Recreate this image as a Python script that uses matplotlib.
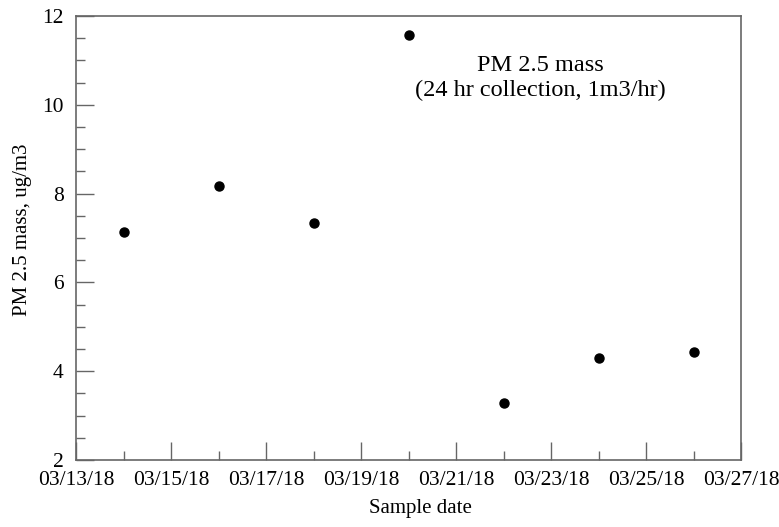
import matplotlib
matplotlib.use("Agg")
import matplotlib.pyplot as plt
import matplotlib.dates as mdates
import numpy as np
import datetime

# Sample dates and PM 2.5 mass (ug/m3)
dates = ["2018-03-14", "2018-03-16", "2018-03-18", "2018-03-20",
         "2018-03-22", "2018-03-24", "2018-03-26"]
pm25 = [7.13, 8.17, 7.33, 11.57, 3.29, 4.29, 4.44]

plt.rcParams['font.family'] = ['Liberation Serif', 'DejaVu Serif']

x = [datetime.datetime.strptime(d, "%Y-%m-%d") for d in dates]

fig = plt.figure(figsize=(7.79, 5.27), dpi=100)
ax = fig.add_axes([76 / 779, 1 - 460 / 527, 665 / 779, 444 / 527])

ax.plot(x, pm25, "o", color="black", markersize=6.5)

ax.set_xlim(datetime.datetime(2018, 3, 13), datetime.datetime(2018, 3, 27))
ax.set_ylim(2, 12)

ax.xaxis.set_major_locator(mdates.DayLocator(interval=2))
ax.xaxis.set_minor_locator(mdates.DayLocator())
ax.xaxis.set_major_formatter(mdates.DateFormatter("%m/%d/%y"))
ax.set_yticks(np.arange(2, 13, 2))
ax.set_yticks(np.arange(2, 12.01, 0.5), minor=True)

gray = "#666666"
for s in ax.spines.values():
    s.set_color(gray)
    s.set_linewidth(1.2)
ax.tick_params(which="both", direction="in", color=gray, top=False, right=False)
ax.tick_params(which="major", length=13, width=1, labelsize=15.5)
ax.tick_params(which="minor", length=6.5, width=1)
ax.tick_params(axis="x", which="major", pad=8)
ax.tick_params(axis="y", which="major", pad=9)

ax.set_xlabel("Sample date", fontsize=15)
ax.xaxis.set_label_coords((420 - 76) / 665, -0.088)
ax.set_ylabel("PM 2.5 mass, ug/m3", fontsize=15)
ax.yaxis.set_label_coords(-0.066, 0.518)

ax.text(0.698, 0.86, "PM 2.5 mass\n(24 hr collection, 1m3/hr)",
        transform=ax.transAxes, ha="center", va="center",
        fontsize=17.5, linespacing=1.25)

fig.savefig("out.png", dpi=100)
